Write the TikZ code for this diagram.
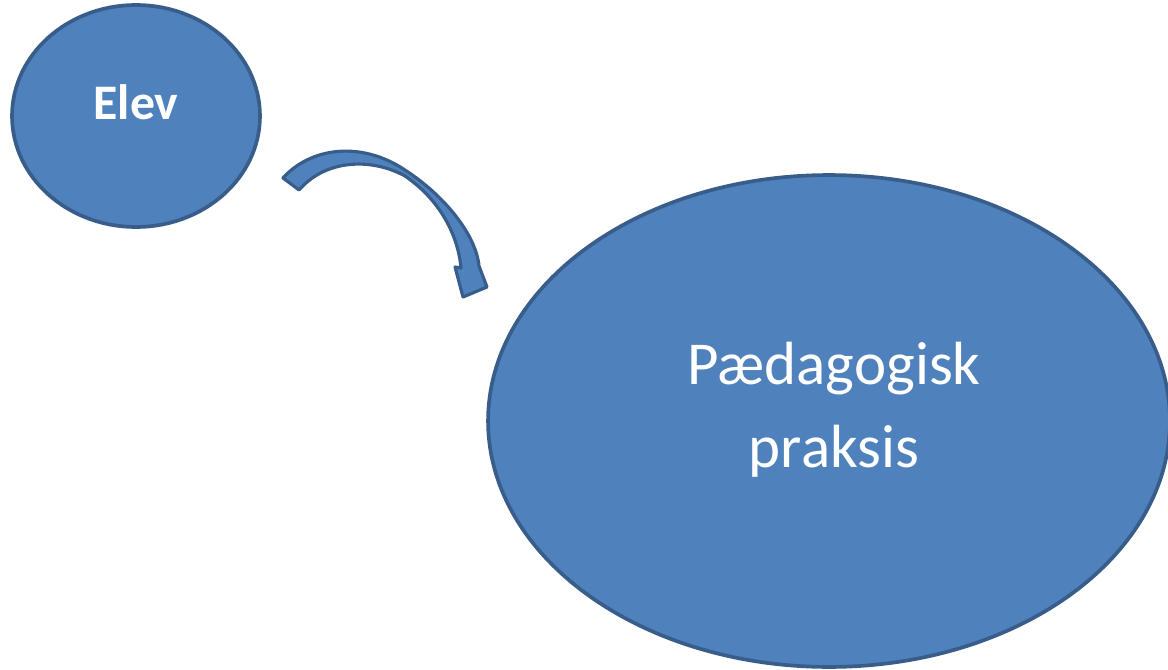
\documentclass[tikz,border=0pt]{standalone}
\usepackage{fontspec}
\setmainfont{Carlito}
\usetikzlibrary{shapes.geometric}

\definecolor{fillblue}{RGB}{79,129,189}
\definecolor{edgeblue}{RGB}{56,93,138}

\tikzset{
  bubble/.style={ellipse, draw=edgeblue, fill=fillblue, line width=2.1pt, inner sep=0pt},
  bubbletext/.style={text=white, align=center, inner sep=0pt}
}

\begin{document}
\begin{tikzpicture}[x=0.02cm, y=-0.02cm]
  \useasboundingbox (0,0) rectangle (1168,669);
  \node[bubble, minimum width=4.96cm, minimum height=4.44cm] (elev) at (136,116) {};
  \node[bubbletext, font=\fontsize{28.3}{34}\selectfont\bfseries] (elevtxt) at (136,102) {Elev};
  \node[bubble, minimum width=13.64cm, minimum height=9.84cm] (praksis) at (829,421) {};
  \node[bubbletext, font=\fontsize{34.7}{47.2}\selectfont] (praksistxt) at (834,410) {Pædagogisk\\praksis};
  % krum pil
  \coordinate (tailA) at (283,178);
  \coordinate (tailB) at (299,190);
  \filldraw[fill=fillblue, draw=edgeblue, line width=1.8pt, line join=round]
    (tailA) .. controls (310,148) and (360,140) .. (405,170)
    .. controls (445,196) and (476,235) .. (479,266)
    -- (487,287) -- (463,297) -- (455,267) -- (461,268)
    .. controls (458,235) and (440,200) .. (405,176)
    .. controls (370,157) and (325,160) .. (tailB) -- cycle;
\end{tikzpicture}
\end{document}
